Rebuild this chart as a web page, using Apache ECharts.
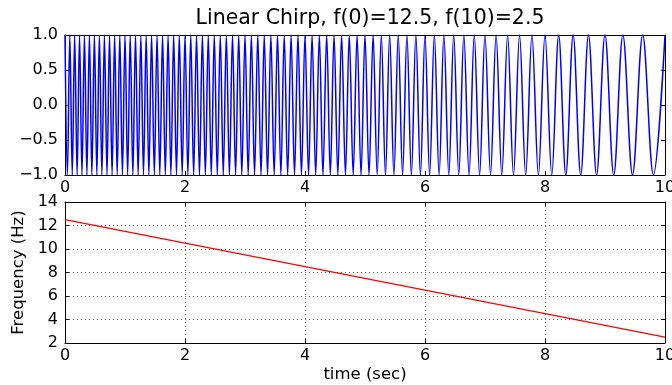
<!DOCTYPE html>
<html>
<head>
<meta charset="utf-8">
<script src="https://cdn.jsdelivr.net/npm/echarts@6/dist/echarts.min.js"></script>
<style>
  html, body { margin: 0; padding: 0; background: #fff; }
  #chart { width: 672px; height: 385px; }
</style>
</head>
<body>
<div id="chart"></div>
<script>
// chirp extrema (sec): alternating peaks (+1) and troughs (-1)
const extremumTimes = [
  0.000, 0.040, 0.080, 0.121, 0.161, 0.202, 0.242, 0.283, 0.324, 0.365,
  0.407, 0.448, 0.490, 0.531, 0.573, 0.615, 0.657, 0.700, 0.742, 0.785,
  0.827, 0.870, 0.913, 0.957, 1.000, 1.044, 1.087, 1.131, 1.175, 1.219,
  1.264, 1.308, 1.353, 1.398, 1.443, 1.489, 1.534, 1.580, 1.626, 1.672,
  1.718, 1.765, 1.811, 1.858, 1.905, 1.953, 2.000, 2.048, 2.096, 2.144,
  2.192, 2.241, 2.290, 2.339, 2.388, 2.438, 2.488, 2.538, 2.588, 2.638,
  2.689, 2.740, 2.792, 2.843, 2.895, 2.947, 3.000, 3.053, 3.106, 3.159,
  3.213, 3.267, 3.321, 3.376, 3.431, 3.486, 3.542, 3.598, 3.654, 3.711,
  3.768, 3.825, 3.883, 3.941, 4.000, 4.059, 4.118, 4.178, 4.239, 4.299,
  4.361, 4.422, 4.484, 4.547, 4.610, 4.674, 4.738, 4.803, 4.868, 4.934,
  5.000, 5.067, 5.135, 5.203, 5.272, 5.341, 5.411, 5.482, 5.554, 5.626,
  5.699, 5.773, 5.848, 5.924, 6.000, 6.077, 6.156, 6.235, 6.315, 6.397,
  6.479, 6.563, 6.648, 6.734, 6.821, 6.910, 7.000, 7.092, 7.185, 7.280,
  7.377, 7.475, 7.576, 7.678, 7.783, 7.890, 8.000, 8.113, 8.228, 8.347,
  8.469, 8.595, 8.725, 8.860, 9.000, 9.146, 9.298, 9.459, 9.628, 9.807,
  10.000
];
const extremumLevels = [1, -1]; // peak, trough, repeating

// instantaneous frequency
const freqTimes = [0, 10];
const freqValues = [12.5, 2.5];

const font = 'DejaVu Sans';
const black = '#000';

const chirpData = extremumTimes.map((t, i) => [t, extremumLevels[i % 2]]);
const freqData = freqTimes.map((t, i) => [t, freqValues[i]]);

const minus = (s) => s.replace('-', '\u2212');

function frameAxis(extra) {
  return Object.assign({
    axisLine: { show: true, onZero: false, lineStyle: { color: black, width: 1 } },
    axisTick: { show: true, inside: true, length: 4, lineStyle: { color: black, width: 1 } },
    axisLabel: { show: false },
    splitLine: { show: false },
  }, extra);
}

const labelStyle = { show: true, color: black, fontFamily: font, fontSize: 16 };
const nameStyle = { color: black, fontFamily: font, fontSize: 16.5 };
const gridLine = { show: true, lineStyle: { color: black, width: 0.6, type: [1, 3] } };

const chart = echarts.init(document.getElementById('chart'), null, { renderer: 'canvas' });
chart.setOption({
  animation: false,
  backgroundColor: '#fff',
  title: {
    text: 'Linear Chirp, f(0)=12.5, f(10)=2.5',
    left: 365,
    top: 3,
    textAlign: 'center',
    textStyle: { color: black, fontFamily: font, fontSize: 20.5, fontWeight: 'normal' },
  },
  grid: [
    { left: 65, right: 7, top: 35, height: 140, outerBoundsMode: 'none' },
    { left: 65, right: 7, top: 202, height: 141, outerBoundsMode: 'none' },
  ],
  xAxis: [
    frameAxis({ type: 'value', gridIndex: 0, position: 'bottom', min: 0, max: 10, interval: 2,
      axisLabel: Object.assign({ margin: 5 }, labelStyle) }),
    frameAxis({ type: 'value', gridIndex: 0, position: 'top', min: 0, max: 10, interval: 2 }),
    frameAxis({ type: 'value', gridIndex: 1, position: 'bottom', min: 0, max: 10, interval: 2,
      axisLabel: Object.assign({ margin: 5 }, labelStyle),
      splitLine: gridLine,
      name: 'time (sec)', nameLocation: 'middle', nameGap: 23, nameTextStyle: nameStyle }),
    frameAxis({ type: 'value', gridIndex: 1, position: 'top', min: 0, max: 10, interval: 2 }),
  ],
  yAxis: [
    frameAxis({ type: 'value', gridIndex: 0, position: 'left', min: -1, max: 1, interval: 0.5,
      axisLabel: Object.assign({ margin: 7, formatter: (v) => minus(v.toFixed(1)) }, labelStyle) }),
    frameAxis({ type: 'value', gridIndex: 0, position: 'right', min: -1, max: 1, interval: 0.5 }),
    frameAxis({ type: 'value', gridIndex: 1, position: 'left', min: 2, max: 14, interval: 2,
      axisLabel: Object.assign({ margin: 7 }, labelStyle),
      splitLine: gridLine,
      name: 'Frequency (Hz)', nameLocation: 'middle', nameGap: 32, nameTextStyle: nameStyle }),
    frameAxis({ type: 'value', gridIndex: 1, position: 'right', min: 2, max: 14, interval: 2 }),
  ],
  series: [
    {
      type: 'line',
      name: 'chirp',
      xAxisIndex: 0,
      yAxisIndex: 0,
      data: chirpData,
      smooth: 0.36,
      symbol: 'none',
      clip: true,
      lineStyle: { color: '#0000ff', width: 1.5 },
    },
    {
      type: 'line',
      name: 'frequency',
      xAxisIndex: 2,
      yAxisIndex: 2,
      data: freqData,
      symbol: 'none',
      clip: true,
      lineStyle: { color: '#ff0000', width: 1.5 },
    },
  ],
});
</script>
</body>
</html>
